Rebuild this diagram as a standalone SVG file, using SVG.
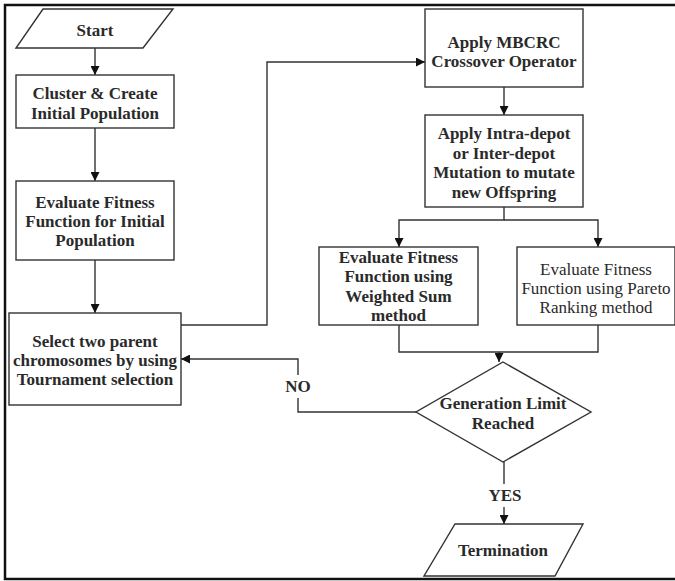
<svg xmlns="http://www.w3.org/2000/svg" width="675" height="581" viewBox="0 0 675 581">
<style>
.n{fill:#fff;stroke:#333;stroke-width:1.4}
.t{font-family:'Liberation Serif','DejaVu Serif',Times,serif;font-size:17px;font-weight:bold;fill:#2a2a2a;text-anchor:middle}
.r{font-weight:normal}
.c{fill:none;stroke:#333;stroke-width:1.4}
</style>
<defs>
<marker id="a" viewBox="0 0 10 10" refX="10" refY="5" markerWidth="9" markerHeight="9" markerUnits="userSpaceOnUse" orient="auto">
<path d="M0,0 L10,5 L0,10 z" fill="#111"/>
</marker>
</defs>
<rect x="5" y="5" width="680" height="574" fill="#fff" stroke="#111" stroke-width="2.5"/>
<g id="connectors">
<path class="c" d="M95,48 V75" marker-end="url(#a)"/>
<path class="c" d="M95,128 V181" marker-end="url(#a)"/>
<path class="c" d="M95,260 V313" marker-end="url(#a)"/>
<path class="c" d="M181,325 H267 V62 H425" marker-end="url(#a)"/>
<path class="c" d="M504,87 V115" marker-end="url(#a)"/>
<path class="c" d="M504,207 V220 H399 V247" marker-end="url(#a)"/>
<path class="c" d="M504,220 H598 V247" marker-end="url(#a)"/>
<path class="c" d="M399,325 V352 H598 V325"/>
<path class="c" d="M499,352 V362" marker-end="url(#a)"/>
<path class="c" d="M416,412 H298 V398"/>
<path class="c" d="M298,375 V359 H181" marker-end="url(#a)"/>
<path class="c" d="M504,462 V484"/>
<path class="c" d="M504,507 V524" marker-end="url(#a)"/>
<text class="t" x="298" y="391.5">NO</text>
<text class="t" x="505" y="500.5">YES</text>
</g>
<g id="start">
<polygon class="n" points="43,9 173,9 143,48 16,48"/>
<text class="t" x="95" y="35.5">Start</text>
</g>
<g id="cluster">
<rect class="n" x="16" y="75" width="158" height="53"/>
<text class="t" x="95" y="98.5">Cluster &amp; Create</text>
<text class="t" x="95" y="118.5">Initial Population</text>
</g>
<g id="evaluate-initial">
<rect class="n" x="16" y="181" width="158" height="79"/>
<text class="t" x="95" y="207.5">Evaluate Fitness</text>
<text class="t" x="95" y="226.5">Function for Initial</text>
<text class="t" x="95" y="245.5">Population</text>
</g>
<g id="select">
<rect class="n" x="9" y="313" width="172" height="92"/>
<text class="t" x="95" y="346.5">Select two parent</text>
<text class="t" x="95" y="365.5">chromosomes by using</text>
<text class="t" x="95" y="384.5">Tournament selection</text>
</g>
<g id="crossover">
<rect class="n" x="425" y="9" width="158" height="78"/>
<text class="t" x="504" y="47.5">Apply MBCRC</text>
<text class="t" x="504" y="66.5">Crossover Operator</text>
</g>
<g id="mutation">
<rect class="n" x="425" y="115" width="158" height="92"/>
<text class="t" x="504" y="139">Apply Intra-depot</text>
<text class="t" x="504" y="158.5">or Inter-depot</text>
<text class="t" x="504" y="178">Mutation to mutate</text>
<text class="t" x="504" y="197.5">new Offspring</text>
</g>
<g id="weighted-sum">
<rect class="n" x="319" y="247" width="159" height="78"/>
<text class="t" x="398.5" y="262.5">Evaluate Fitness</text>
<text class="t" x="398.5" y="282">Function using</text>
<text class="t" x="398.5" y="301.5">Weighted Sum</text>
<text class="t" x="398.5" y="321">method</text>
</g>
<g id="pareto">
<rect class="n" x="517" y="247" width="158" height="78"/>
<text class="t r" x="596" y="274.5">Evaluate Fitness</text>
<text class="t r" x="596" y="294">Function using Pareto</text>
<text class="t r" x="596" y="312.5">Ranking method</text>
</g>
<g id="generation-limit">
<polygon class="n" points="503,362 591,412 503,462 416,412"/>
<text class="t" x="503" y="408.5">Generation Limit</text>
<text class="t" x="503" y="428.5">Reached</text>
</g>
<g id="termination">
<polygon class="n" points="455,524 583,524 555,576 424,576"/>
<text class="t" x="503" y="555.5">Termination</text>
</g>
</svg>
